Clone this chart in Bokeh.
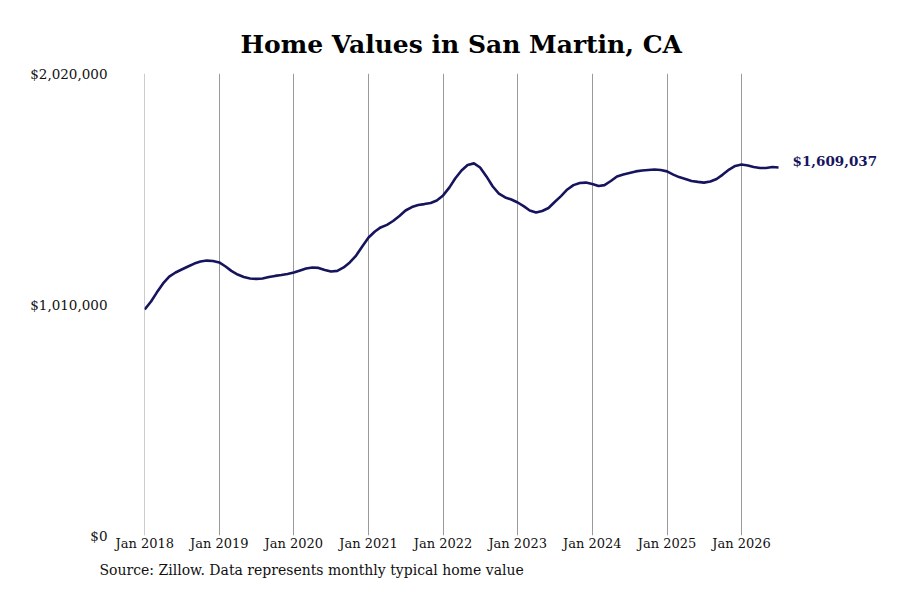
import pandas as pd
from bokeh.plotting import figure
from bokeh.models import (FixedTicker, NumeralTickFormatter, DatetimeTickFormatter,
                          Range1d, Label, Title)
from bokeh.embed import file_html
from bokeh.resources import INLINE

# Monthly typical home value, San Martin, CA (Jan 2018 .. Jul 2026)
start_month = "2018-01-01"
values = [
    988000, 1023000, 1062000, 1102000, 1132000, 1150000, 1163000, 1176000, 1189000, 1198000, 1202000, 1200000,
    1194000, 1176000, 1157000, 1141000, 1130000, 1124000, 1122000, 1124000, 1130000, 1135000, 1139000, 1143000,
    1150000, 1159000, 1167000, 1172000, 1170000, 1161000, 1154000, 1157000, 1172000, 1194000, 1224000, 1264000,
    1303000, 1329000, 1347000, 1358000, 1375000, 1397000, 1421000, 1436000, 1445000, 1449000, 1454000, 1465000,
    1487000, 1522000, 1561000, 1596000, 1620000, 1627000, 1609000, 1570000, 1526000, 1495000, 1478000, 1469000,
    1456000, 1439000, 1421000, 1412000, 1419000, 1432000, 1458000, 1484000, 1513000, 1532000, 1541000, 1543000,
    1537000, 1528000, 1532000, 1550000, 1570000, 1578000, 1585000, 1592000, 1596000, 1598000, 1600000, 1598000,
    1592000, 1578000, 1567000, 1559000, 1550000, 1546000, 1543000, 1548000, 1559000, 1578000, 1600000, 1616000,
    1622000, 1618000, 1611000, 1607000, 1607000, 1611000, 1609037,
]
dates = pd.date_range(start_month, periods=len(values), freq="MS")
tick_years = list(range(2018, 2027))
y_ticks = [0, 1010000, 2020000]

title_text = "Home Values in San Martin, CA"
source_text = "Source: Zillow. Data represents monthly typical home value"
last_label = "${:,.0f}".format(values[-1])

FONT = "DejaVu Serif"
NAVY = "#17145e"

W, H = 884, 584
FL, FR, FT, FB = 144, 884, 73, 535   # frame edges in pixels
LAST_PX = 778                        # where the last month sits

p = figure(width=W, height=H, output_backend="svg", toolbar_location=None,
           x_axis_type="datetime",
           min_border_left=FL, min_border_right=W - FR, min_border_top=FT, min_border_bottom=H - FB)
p.outline_line_color = None

t0 = dates[0].value / 1e6
t1 = dates[-1].value / 1e6
ms_per_px = (t1 - t0) / (LAST_PX - FL)
p.x_range = Range1d(t0 - 86400000, t1 + ms_per_px * (FR - LAST_PX))
p.y_range = Range1d(0, 2020000)

p.line(dates, values, line_color=NAVY, line_width=2.6)

# x axis
xt = [pd.Timestamp(f"{y}-01-01").value / 1e6 for y in tick_years]
p.xaxis.ticker = FixedTicker(ticks=xt)
p.xaxis.formatter = DatetimeTickFormatter(months="%b %Y", years="%b %Y", days="%b %Y")
p.xaxis.axis_line_color = None
p.xaxis.major_tick_line_color = None
p.xaxis.minor_tick_line_color = None
p.xaxis.major_tick_out = 0
p.xaxis.minor_tick_out = 0
p.xaxis.major_label_standoff = 0
p.xaxis.major_label_text_font = FONT
p.xaxis.major_label_text_font_size = "13px"
p.xaxis.major_label_text_color = "#111111"

# y axis
p.yaxis.ticker = FixedTicker(ticks=y_ticks)
p.yaxis.formatter = NumeralTickFormatter(format="$0,0")
p.yaxis.axis_line_color = None
p.yaxis.major_tick_line_color = None
p.yaxis.minor_tick_line_color = None
p.yaxis.major_tick_out = 0
p.yaxis.minor_tick_out = 0
p.yaxis.major_label_standoff = 37
p.yaxis.major_label_text_font = FONT
p.yaxis.major_label_text_font_size = "13.5px"
p.yaxis.major_label_text_color = "#111111"

# grids
p.xgrid.ticker = FixedTicker(ticks=xt)
p.xgrid.grid_line_color = "#9a9a9a"
p.xgrid.grid_line_width = 1
p.ygrid.grid_line_color = None

# title
p.title = Title(text=title_text, align="left", offset=96, text_font=FONT, text_font_size="25px",
                text_font_style="bold", text_color="#000000", standoff=29)

# source note
src = Title(text=source_text, align="left", text_font=FONT, text_font_size="14px",
            text_font_style="normal", text_color="#111111", offset=-45, standoff=12,
            text_line_height=1.0)
p.add_layout(src, "below")

# last value label
lab = Label(x=t1, y=values[-1], text=last_label, x_offset=14, y_offset=6,
            text_baseline="middle", text_align="left", text_font=FONT,
            text_font_size="13.5px", text_font_style="bold", text_color=NAVY)
p.add_layout(lab)

open("out.html", "w").write(file_html(p, INLINE))
